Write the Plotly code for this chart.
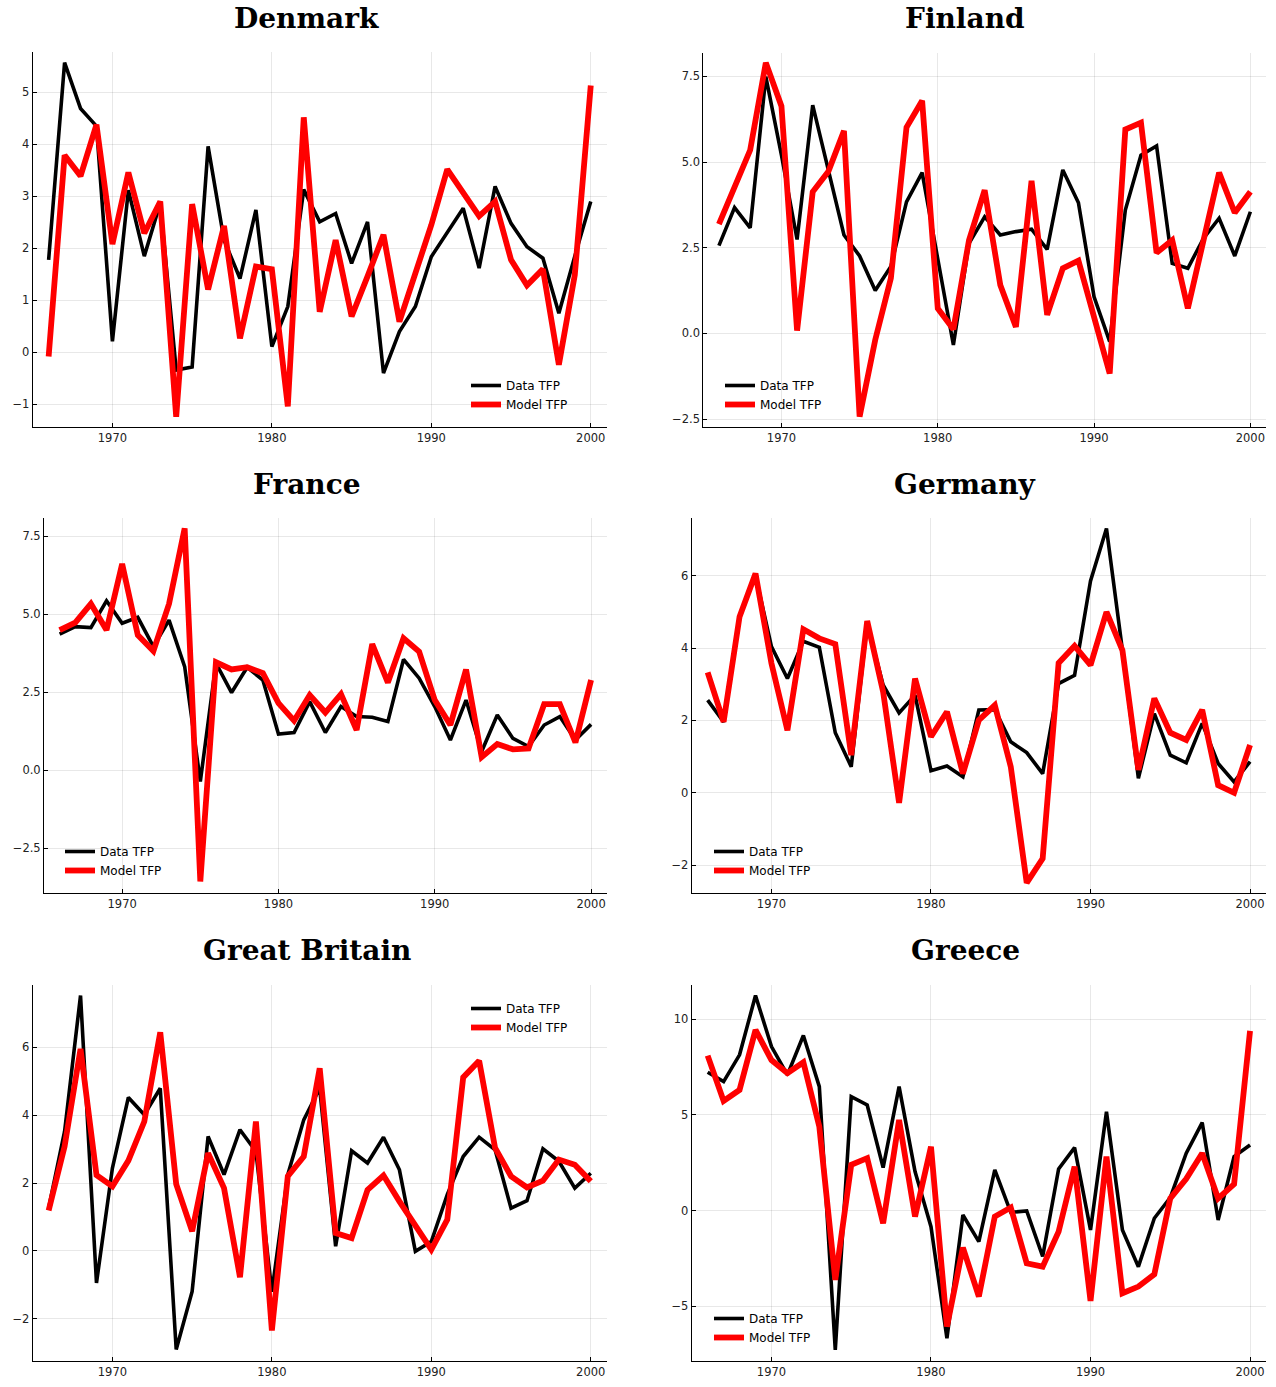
import plotly.graph_objects as go

# ---------------- data ----------------
years = list(range(1966, 2001))
series_names = ["Data TFP", "Model TFP"]
x_tickvals = [1970, 1980, 1990, 2000]

denmark_data = [1.78, 5.57, 4.69, 4.35, 0.21, 3.12, 1.85, 2.87, -0.34, -0.28,
                3.96, 2.16, 1.42, 2.74, 0.11, 0.88, 3.13, 2.51, 2.67, 1.71,
                2.51, -0.40, 0.40, 0.88, 1.84, 2.32, 2.77, 1.62, 3.19, 2.48,
                2.03, 1.81, 0.75, 1.85, 2.90]
denmark_model = [-0.08, 3.79, 3.39, 4.38, 2.08, 3.46, 2.29, 2.90, -1.24, 2.85,
                 1.21, 2.43, 0.27, 1.65, 1.60, -1.04, 4.52, 0.78, 2.16, 0.69,
                 1.46, 2.26, 0.59, 1.52, 2.45, 3.52, 3.09, 2.62, 2.90, 1.78,
                 1.29, 1.60, -0.24, 1.49, 5.13]

finland_data = [2.56, 3.67, 3.08, 7.49, 5.20, 2.74, 6.66, 4.80, 2.87, 2.26,
                1.25, 1.95, 3.84, 4.69, 2.20, -0.34, 2.63, 3.40, 2.87, 2.97,
                3.04, 2.45, 4.77, 3.81, 1.07, -0.24, 3.60, 5.20, 5.47, 2.04,
                1.90, 2.77, 3.36, 2.26, 3.55]
finland_model = [3.19, 4.28, 5.35, 7.90, 6.63, 0.08, 4.13, 4.72, 5.91, -2.43,
                 -0.19, 1.61, 6.01, 6.79, 0.73, 0.12, 2.72, 4.18, 1.41, 0.19,
                 4.45, 0.54, 1.90, 2.12, 0.49, -1.17, 5.95, 6.15, 2.35, 2.72,
                 0.73, 2.77, 4.69, 3.52, 4.13]

france_data = [4.36, 4.60, 4.57, 5.43, 4.71, 4.90, 3.96, 4.81, 3.32, -0.36,
               3.43, 2.49, 3.30, 2.89, 1.16, 1.21, 2.20, 1.21, 2.04, 1.72,
               1.70, 1.56, 3.55, 2.95, 2.04, 0.97, 2.25, 0.60, 1.77, 1.02,
               0.76, 1.45, 1.72, 0.97, 1.47]
france_model = [4.49, 4.73, 5.33, 4.49, 6.61, 4.33, 3.82, 5.33, 7.75, -3.56,
                3.46, 3.23, 3.30, 3.11, 2.15, 1.59, 2.41, 1.85, 2.44, 1.29,
                4.04, 2.81, 4.23, 3.80, 2.25, 1.45, 3.23, 0.42, 0.84, 0.67,
                0.70, 2.12, 2.12, 0.89, 2.89]

germany_data = [2.56, 1.96, 4.87, 6.02, 4.04, 3.16, 4.19, 4.02, 1.66, 0.72,
                4.68, 2.98, 2.21, 2.70, 0.61, 0.74, 0.44, 2.29, 2.30, 1.41,
                1.11, 0.53, 3.02, 3.25, 5.86, 7.31, 3.94, 0.40, 2.19, 1.04,
                0.83, 1.92, 0.81, 0.30, 0.86]
germany_model = [3.33, 1.96, 4.87, 6.06, 3.58, 1.73, 4.52, 4.27, 4.11, 1.04,
                 4.75, 2.79, -0.28, 3.16, 1.55, 2.24, 0.53, 2.01, 2.42, 0.72,
                 -2.49, -1.82, 3.59, 4.06, 3.53, 5.00, 3.94, 0.63, 2.61, 1.66,
                 1.46, 2.29, 0.21, 0.00, 1.32]

britain_data = [1.26, 3.52, 7.52, -0.94, 2.44, 4.52, 4.01, 4.79, -2.90, -1.19,
                3.37, 2.25, 3.57, 2.93, -1.20, 2.25, 3.86, 4.79, 0.14, 2.95,
                2.59, 3.35, 2.39, -0.01, 0.28, 1.66, 2.78, 3.35, 2.98, 1.26,
                1.48, 3.01, 2.64, 1.85, 2.29]
britain_model = [1.19, 3.08, 5.95, 2.23, 1.90, 2.66, 3.81, 6.44, 1.97, 0.58,
                 2.88, 1.85, -0.77, 3.81, -2.34, 2.20, 2.78, 5.38, 0.53, 0.38,
                 1.80, 2.22, 1.46, 0.73, 0.04, 0.92, 5.11, 5.60, 3.03, 2.20,
                 1.87, 2.07, 2.69, 2.54, 2.05]

greece_data = [7.23, 6.74, 8.14, 11.24, 8.57, 7.09, 9.15, 6.48, -7.28, 5.96,
               5.52, 2.25, 6.48, 2.04, -0.84, -6.67, -0.23, -1.62, 2.13, -0.09,
               -0.02, -2.40, 2.18, 3.29, -1.01, 5.17, -1.01, -2.93, -0.40, 0.68,
               3.00, 4.60, -0.49, 2.82, 3.43]
greece_model = [8.10, 5.73, 6.31, 9.44, 7.87, 7.18, 7.75, 4.39, -3.62, 2.39,
                2.74, -0.66, 4.74, -0.31, 3.34, -6.06, -1.93, -4.49, -0.31, 0.16,
                -2.75, -2.93, -1.10, 2.30, -4.72, 2.82, -4.32, -3.97, -3.33, 0.64,
                1.66, 3.00, 0.64, 1.38, 9.39]

countries = ["Denmark", "Finland", "France", "Germany", "Great Britain", "Greece"]
data_series = [denmark_data, finland_data, france_data, germany_data, britain_data, greece_data]
model_series = [denmark_model, finland_model, france_model, germany_model, britain_model, greece_model]

# ---------------- layout (page pixels; body margin removed via post_script) ----------------
W, H = 1276, 1387
panel_px = [  # (left, right, top, bottom)
    (32.7, 606.7, 52.3, 426.7),
    (703.3, 1266, 52.7, 427.3),
    (44, 606.7, 518.3, 892.7),
    (691.7, 1266, 518.3, 893.3),
    (32.7, 606.7, 985, 1360.7),
    (691.7, 1266, 985, 1361),
]
y_ranges = [(-1.43, 5.77), (-2.74, 8.19), (-3.92, 8.07), (-2.78, 7.59), (-3.23, 7.83), (-7.86, 11.79)]
y_dticks = [1, 2.5, 2.5, 2, 2, 5]
y_formats = ["", ".1f", ".1f", "", "", ""]
title_pos = [(306, 18), (965, 18), (307, 485), (964.5, 485), (306.5, 950), (965.5, 950)]
legend_pos = [(466, 395), (720, 395), (60, 861), (709, 861), (466, 1018), (709, 1328)]


def fx(px):
    return px / W


def fy(py):
    return 1 - py / H


fig = go.Figure()
layout = dict(
    width=W, height=H, margin=dict(l=0, r=0, t=0, b=0),
    paper_bgcolor="white", plot_bgcolor="white",
    font=dict(family="DejaVu Sans", size=12, color="#222"),
    annotations=[], showlegend=True,
)

grid_c = "rgba(0,0,0,0.09)"
for i, name in enumerate(countries):
    n = i + 1
    xa = "x" if n == 1 else f"x{n}"
    ya = "y" if n == 1 else f"y{n}"
    leg = "legend" if n == 1 else f"legend{n}"
    fig.add_trace(go.Scatter(x=years, y=data_series[i], mode="lines", name=series_names[0],
                             line=dict(color="black", width=3.6), xaxis=xa, yaxis=ya, legend=leg))
    fig.add_trace(go.Scatter(x=years, y=model_series[i], mode="lines", name=series_names[1],
                             line=dict(color="#ff0000", width=5.8), xaxis=xa, yaxis=ya, legend=leg))
    l, r, t, b = panel_px[i]
    xkey = "xaxis" if n == 1 else f"xaxis{n}"
    ykey = "yaxis" if n == 1 else f"yaxis{n}"
    layout[xkey] = dict(
        domain=[fx(l), fx(r)], anchor=ya, range=[1965, 2001],
        tickvals=x_tickvals, showgrid=True, gridcolor=grid_c, gridwidth=1,
        showline=True, linecolor="black", linewidth=1, zeroline=False,
        ticks="inside", ticklen=4, tickcolor="black",
        tickfont=dict(family="DejaVu Sans", size=11.5, color="#222"),
    )
    layout[ykey] = dict(
        domain=[fy(b), fy(t)], anchor=xa, range=list(y_ranges[i]),
        dtick=y_dticks[i], tick0=0, tickformat=y_formats[i],
        showgrid=True, gridcolor=grid_c, gridwidth=1,
        showline=True, linecolor="black", linewidth=1, zeroline=False,
        ticks="inside", ticklen=4, tickcolor="black",
        tickfont=dict(family="DejaVu Sans", size=11.5, color="#222"),
    )
    lx, ly = legend_pos[i]
    layout[leg] = dict(
        x=fx(lx), y=fy(ly), xanchor="left", yanchor="middle",
        bgcolor="rgba(255,255,255,0)", borderwidth=0,
        font=dict(family="DejaVu Sans", size=12, color="black"),
        tracegroupgap=0,
    )
    tx, ty = title_pos[i]
    layout["annotations"].append(dict(
        text=f"<b>{name}</b>", x=fx(tx), y=fy(ty), xref="paper", yref="paper",
        xanchor="center", yanchor="middle", showarrow=False,
        font=dict(family="DejaVu Serif", size=28, color="black"),
    ))

fig.update_layout(**layout)
fig.write_html("out.html",
               config={"displayModeBar": False},
               post_script="document.body.style.margin='0';document.body.style.overflow='hidden';")
